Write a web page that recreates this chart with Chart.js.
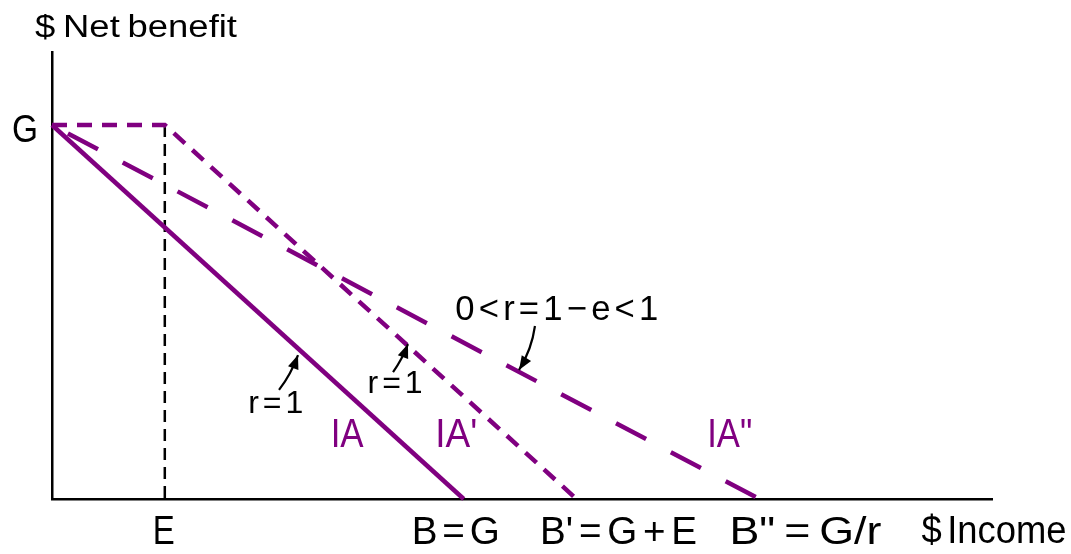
<!DOCTYPE html>
<html>
<head>
<meta charset="utf-8">
<script src="https://cdn.jsdelivr.net/npm/chart.js@4.4.1/dist/chart.umd.min.js"></script>
<style>
  html, body { margin: 0; padding: 0; background: #fff; }
  #wrap { width: 1071px; height: 554px; }
</style>
</head>
<body>
<div id="wrap"><canvas id="benefit-chart" width="1071" height="554"></canvas></div>
<script>
const purple = "#800080";
const fontFamily = '"Liberation Sans", Arial, Helvetica, sans-serif';

// guarantee, exemption and tax-back rate
const G = 43.8;
const E = 12;
const r = 0.582;

const seriesNames = ["IA", "IA'", "IA\""];
const incomePoints = [[0, G], [0, E, G + E], [0, G / r]];
const benefitPoints = [[G, 0], [G, G, 0], [G, 0]];

const xTickValues = [E, G, G + E, G / r];
const xTickLabels = ["E", "B = G", "B' = G + E", "B\" = G/r"];
const yTickValues = [G];
const yTickLabels = ["G"];

const dashes = [[], [15, 10], [34, 28]];
const dashOffsets = [0, 0, 44];

const datasets = seriesNames.map((name, i) => ({
    label: name,
    data: incomePoints[i].map((v, j) => ({x: v, y: benefitPoints[i][j]})),
    borderColor: purple,
    borderWidth: 4.5,
    borderDash: dashes[i],
    borderDashOffset: dashOffsets[i],
    pointRadius: 0,
    tension: 0,
    clip: false
}));

// dashed drop line from the kink at E
datasets.push({
    label: "E",
    data: [{x: E, y: G}, {x: E, y: 0}],
    borderColor: "#000",
    borderWidth: 2.5,
    borderDash: [12, 7],
    pointRadius: 0,
    clip: false
});

// draw text fitted to a given width, baseline at y, centred on cx
function label(ctx, str, cx, y, size, color, width, ws) {
    ctx.save();
    ctx.font = size + "px " + fontFamily;
    ctx.fillStyle = color;
    ctx.textAlign = "center";
    ctx.textBaseline = "alphabetic";
    ctx.wordSpacing = (ws || 0) + "px";
    const w = ctx.measureText(str).width;
    ctx.translate(cx, y);
    if (width) ctx.scale(width / w, 1);
    ctx.fillText(str, 0, 0);
    ctx.restore();
}

function arrow(ctx, x0, y0, x1, y1, bend) {
    const mx = (x0 + x1) / 2, my = (y0 + y1) / 2;
    const dx = x1 - x0, dy = y1 - y0;
    const len = Math.hypot(dx, dy);
    const cx = mx - dy / len * bend, cy = my + dx / len * bend;
    ctx.save();
    ctx.strokeStyle = "#000";
    ctx.fillStyle = "#000";
    ctx.lineWidth = 2.2;
    ctx.beginPath();
    ctx.moveTo(x0, y0);
    ctx.quadraticCurveTo(cx, cy, x1, y1);
    ctx.stroke();
    const a = Math.atan2(y1 - cy, x1 - cx);
    const hl = 14, hw = 5.5;
    ctx.beginPath();
    ctx.moveTo(x1, y1);
    ctx.lineTo(x1 - hl * Math.cos(a) + hw * Math.sin(a), y1 - hl * Math.sin(a) - hw * Math.cos(a));
    ctx.lineTo(x1 - hl * Math.cos(a) - hw * Math.sin(a), y1 - hl * Math.sin(a) + hw * Math.cos(a));
    ctx.closePath();
    ctx.fill();
    ctx.restore();
}

const annotate = {
    id: "annotate",
    afterDatasetsDraw(chart) {
        const {ctx, scales: {x, y}} = chart;
        const px = v => x.getPixelForValue(v);
        const py = v => y.getPixelForValue(v);

        // axis titles
        label(ctx, "$ Net benefit", x.left + 84, y.top - 15, 31, "#000", 202, -2);
        label(ctx, "$ Income", x.right + 2, y.bottom + 44, 39, "#000", 145, -5);

        // y tick
        label(ctx, yTickLabels[0], px(0) - 27, py(yTickValues[0]) + 17, 38, "#000", 26);

        // x ticks
        const shifts = [-1, -8, 42, 46];
        const widths = [22, 88, 157, 152];
        const gaps = [0, -6, -5, -3];
        xTickLabels.forEach((t, i) => {
            label(ctx, t, px(xTickValues[i]) + shifts[i], y.bottom + 45, i === 0 ? 41 : 39, "#000", widths[i], gaps[i]);
        });

        // series names
        label(ctx, seriesNames[0], px(31.4), py(6.1), 41, purple, 33);
        label(ctx, seriesNames[1], px(43.0), py(6.1), 41, purple, 42);
        label(ctx, seriesNames[2], px(72.1), py(6.1), 41, purple, 45);

        // rate notes and their pointers
        label(ctx, "r = 1", px(23.8), py(10.07), 32, "#000", 55, -5);
        label(ctx, "r = 1", px(36.5), py(12.41), 32, "#000", 55, -5);
        label(ctx, "0 < r = 1 \u2212 e < 1", px(53.7), py(20.96), 35, "#000", 203, -5.5);

        arrow(ctx, px(24.15), py(12.77), px(26.17), py(16.86), 3);
        arrow(ctx, px(36.28), py(14.87), px(37.87), py(18.15), 2);
        arrow(ctx, px(51.38), py(20.26), px(49.68), py(15.11), -5);
    }
};

const axisLine = {display: true, color: "#000", width: 2.5};

new Chart(document.getElementById("benefit-chart"), {
    type: "line",
    data: {datasets},
    options: {
        responsive: false,
        animation: false,
        devicePixelRatio: 1,
        layout: {padding: {left: 52, top: 52, right: 79, bottom: 55}},
        plugins: {legend: {display: false}, tooltip: {enabled: false}},
        scales: {
            x: {
                type: "linear", min: 0, max: 100,
                grid: {display: false, drawTicks: false},
                ticks: {display: false},
                border: axisLine
            },
            y: {
                type: "linear", min: 0, max: 52.35,
                grid: {display: false, drawTicks: false},
                ticks: {display: false},
                border: axisLine
            }
        }
    },
    plugins: [annotate]
});
</script>
</body>
</html>
